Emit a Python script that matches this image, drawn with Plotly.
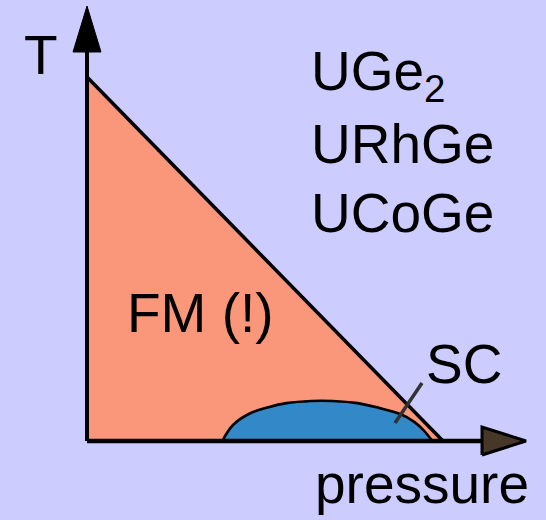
import plotly.graph_objects as go

# Schematic phase diagram of the ferromagnetic superconductors.
# Reduced units: pressure / p_c and temperature / T_Curie(0).
fm_pressure = [0.0, 0.0, 1.0]
fm_temperature = [0.0, 1.0, 0.0]

# superconducting dome under the ferromagnetic boundary
sc_pressure = [0.38, 0.41, 0.46, 0.51, 0.56, 0.63, 0.69, 0.76, 0.82, 0.88, 0.92, 0.945, 0.97]
sc_temperature = [0.0, 0.044, 0.077, 0.093, 0.104, 0.110, 0.110, 0.104, 0.091, 0.074, 0.052, 0.030, 0.0]

compounds = ["UGe<sub>2</sub>", "URhGe", "UCoGe"]
axis_titles = ["pressure", "T"]
region_labels = ["FM (!)", "SC"]

# figure geometry
W, H = 546, 520
ORIGIN_X, ORIGIN_Y = 87, 441      # pixel position of the origin
SCALE_X, SCALE_Y = 356, 364       # pixels per reduced unit


def dx(px):
    return (px - ORIGIN_X) / SCALE_X


def dy(py):
    return (ORIGIN_Y - py) / SCALE_Y


BG = "rgb(204,204,255)"
SALMON = "rgb(250,150,122)"
BLUE = "rgb(51,136,200)"
FONT = "Liberation Sans, Arial, sans-serif"

fig = go.Figure()

# ferromagnetic region
fig.add_trace(go.Scatter(
    x=fm_pressure, y=fm_temperature, mode="lines", fill="toself",
    fillcolor=SALMON, line=dict(width=0), hoverinfo="skip"))
# Curie line
fig.add_trace(go.Scatter(
    x=fm_pressure[1:], y=fm_temperature[1:], mode="lines",
    line=dict(color="black", width=3.5), hoverinfo="skip"))

# superconducting dome
fig.add_trace(go.Scatter(
    x=sc_pressure, y=sc_temperature, mode="lines", fill="toself",
    fillcolor=BLUE, line=dict(color="black", width=2.6, shape="spline"),
    hoverinfo="skip"))

# leader line for the SC label
fig.add_trace(go.Scatter(
    x=[dx(422), dx(395)], y=[dy(383), dy(423)], mode="lines",
    line=dict(color="rgb(50,50,50)", width=3.5), hoverinfo="skip"))

# axes
x_end, y_end = dx(482), dy(52)
fig.add_trace(go.Scatter(
    x=[0, x_end], y=[0, 0], mode="lines",
    line=dict(color="black", width=4.5), hoverinfo="skip"))
fig.add_trace(go.Scatter(
    x=[0, 0], y=[0, y_end], mode="lines",
    line=dict(color="black", width=4), hoverinfo="skip"))

# arrow heads
hw_x = 14 / SCALE_X
hw_y = 14 / SCALE_Y
fig.add_trace(go.Scatter(
    x=[-hw_x, hw_x, 0, -hw_x], y=[y_end, y_end, dy(6), y_end],
    mode="lines", fill="toself", fillcolor="black",
    line=dict(color="black", width=1), hoverinfo="skip"))
fig.add_trace(go.Scatter(
    x=[x_end, x_end, dx(526), x_end], y=[-hw_y, hw_y, 0, -hw_y],
    mode="lines", fill="toself", fillcolor="rgb(70,55,40)",
    line=dict(color="black", width=3), hoverinfo="skip"))

FS = 55


def label(text, px, py, anchor="center", size=FS):
    fig.add_annotation(
        x=dx(px), y=dy(py), text=text, showarrow=False,
        xanchor=anchor, yanchor="middle",
        font=dict(family=FONT, size=size, color="black"))


label(axis_titles[1], 41, 55)
label(axis_titles[0], 422, 484)
label(region_labels[0], 200, 313)
label(region_labels[1], 464, 364)
for i, name in enumerate(compounds):
    label(name, 309, 75 + 69 * i, anchor="left")

fig.update_layout(
    width=W, height=H, margin=dict(l=0, r=0, t=0, b=0),
    paper_bgcolor=BG, plot_bgcolor=BG, showlegend=False,
    xaxis=dict(range=[dx(0), dx(W)], visible=False, fixedrange=True),
    yaxis=dict(range=[dy(H), dy(0)], visible=False, fixedrange=True),
)

fig.write_html("out.html", config={"displayModeBar": False})
